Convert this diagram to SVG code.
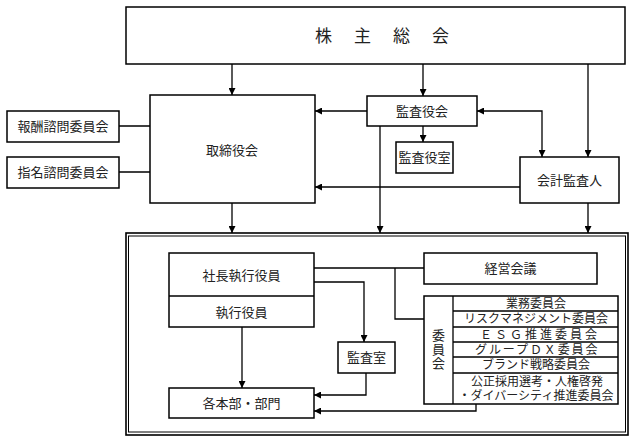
<svg xmlns="http://www.w3.org/2000/svg" width="633" height="442" viewBox="0 0 633 442">
<defs>
<marker id="ah" viewBox="0 0 10 10" refX="10" refY="5" markerWidth="7" markerHeight="7" markerUnits="userSpaceOnUse" orient="auto-start-reverse">
<path d="M0,0 L10,5 L0,10 z" fill="#000"/>
</marker>
<style>
.b{fill:#fff;stroke:#000;stroke-width:1.5}
.l{fill:none;stroke:#000;stroke-width:1.3}
.a{fill:none;stroke:#000;stroke-width:1.3;marker-end:url(#ah)}
text{font-family:"Liberation Serif","Noto Sans CJK JP",serif;font-size:13px;fill:#222;text-anchor:middle;dominant-baseline:central}
.s{font-size:12px}
</style>
</defs>
<rect width="633" height="442" fill="#fff"/>
<g id="frame">
<rect x="126" y="233" width="502" height="202" fill="none" stroke="#000" stroke-width="1.6"/>
<rect x="128.5" y="236" width="497" height="196" fill="none" stroke="#000" stroke-width="1"/>
</g>
<g id="connectors">
<path class="a" d="M232,64 V95"/>
<path class="a" d="M423,64 V96"/>
<path class="a" d="M588,64 V157"/>
<path class="a" d="M367,111 H315"/>
<path class="a" d="M520,187 H315"/>
<path class="a" d="M542,157 V111 H477" marker-start="url(#ah)"/>
<path class="a" d="M423,126 V142"/>
<path class="a" d="M380,126 V233"/>
<path class="a" d="M232,203 V233"/>
<path class="a" d="M588,203 V233"/>
<path class="l" d="M119,126 H150 M119,172 H150"/>
<path class="l" d="M314,268 H424 M395,268 V319 H424"/>
<path class="a" d="M314,282 H364 V342"/>
<path class="a" d="M366,373 V395 H314"/>
<path class="a" d="M476,404 V411 H314"/>
<path class="a" d="M242,327 V388"/>
</g>
<g id="shareholders">
<rect class="b" x="126" y="7" width="499" height="57"/>
<text x="315" y="36" style="font-size:17px;text-anchor:start;letter-spacing:22px">株主総会</text>
</g>
<g id="board">
<rect class="b" x="150" y="95" width="165" height="108"/>
<text x="232" y="150">取締役会</text>
</g>
<g id="remuneration">
<rect class="b" x="7" y="111" width="112" height="31"/>
<text x="63" y="126.5">報酬諮問委員会</text>
</g>
<g id="nomination">
<rect class="b" x="7" y="157" width="112" height="31"/>
<text x="63" y="172.5">指名諮問委員会</text>
</g>
<g id="auditboard">
<rect class="b" x="367" y="96" width="110" height="30"/>
<text x="422" y="111">監査役会</text>
</g>
<g id="auditoffice">
<rect class="b" x="396" y="142" width="57" height="31"/>
<text x="424.5" y="157.5">監査役室</text>
</g>
<g id="accountant">
<rect class="b" x="520" y="157" width="99" height="46"/>
<text x="569.5" y="180">会計監査人</text>
</g>
<g id="executives">
<rect class="b" x="169" y="253" width="145" height="74"/>
<path class="l" d="M169,296 H314"/>
<text x="241.5" y="275">社長執行役員</text>
<text x="241.5" y="312">執行役員</text>
</g>
<g id="mgmtmeeting">
<rect class="b" x="424" y="253" width="173" height="31"/>
<text x="510.5" y="268.5">経営会議</text>
</g>
<g id="internalaudit">
<rect class="b" x="338" y="342" width="57" height="31"/>
<text x="366.5" y="357.5">監査室</text>
</g>
<g id="divisions">
<rect class="b" x="169" y="388" width="145" height="30"/>
<text x="241.5" y="403">各本部・部門</text>
</g>
<g id="committees">
<rect class="b" x="424" y="296" width="194" height="108"/>
<path class="l" d="M453,296 V404 M453,311 H618 M453,327 H618 M453,342 H618 M453,357 H618 M453,373 H618"/>
<text x="438.5" y="335">委</text>
<text x="438.5" y="349">員</text>
<text x="438.5" y="363">会</text>
<text class="s" x="536" y="303.5">業務委員会</text>
<text class="s" x="536" y="319">リスクマネジメント委員会</text>
<text class="s" x="480" y="334.5" style="text-anchor:start;letter-spacing:3px">ＥＳＧ推進委員会</text>
<text class="s" x="475" y="349.5" style="text-anchor:start;letter-spacing:1.9px">グループＤＸ委員会</text>
<text class="s" x="536" y="365">ブランド戦略委員会</text>
<text class="s" x="537" y="382">公正採用選考・人権啓発</text>
<text class="s" x="536" y="396">・ダイバーシティ推進委員会</text>
</g>
</svg>
